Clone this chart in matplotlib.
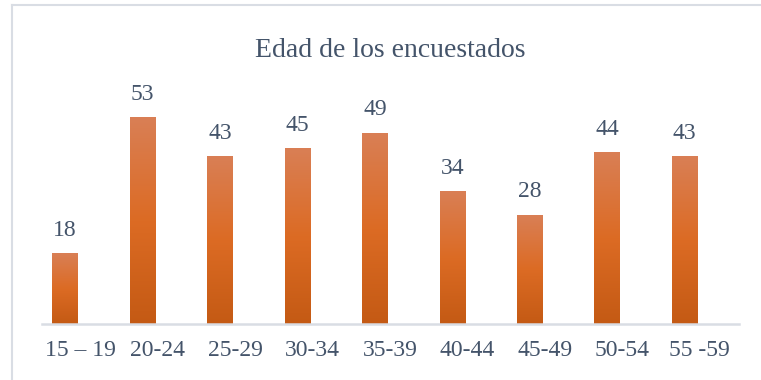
import numpy as np
import matplotlib.pyplot as plt
from matplotlib.colors import LinearSegmentedColormap
from matplotlib.lines import Line2D

# data
categories = ["15 – 19", "20-24", "25-29", "30-34", "35-39",
              "40-44", "45-49", "50-54", "55 -59"]
counts = [18, 53, 43, 45, 49, 34, 28, 44, 43]

TEXT = "#44546A"
GRID = "#D9DDE4"
grad = LinearSegmentedColormap.from_list(
    "bar", ["#C45A14", "#DC6B24", "#D97F55"])

plt.rcParams["font.family"] = ["Liberation Serif", "DejaVu Serif"]

fig = plt.figure(figsize=(7.61, 3.80), dpi=100)
ax = fig.add_axes([41.5 / 761, 1 - 323.5 / 380, 697 / 761, 233.5 / 380])

x = np.arange(len(categories))
bars = ax.bar(x - 0.195, counts, width=0.33, color="none", edgecolor="none")

# vertical gradient fill for each bar
g = np.linspace(0, 1, 256).reshape(-1, 1)
for b in bars:
    x0, w, h = b.get_x(), b.get_width(), b.get_height()
    ax.imshow(g, cmap=grad, origin="lower", aspect="auto",
              extent=(x0, x0 + w, 0, h), zorder=2, interpolation="bilinear")

ax.bar_label(bars, labels=[str(c) for c in counts], padding=9,
             fontsize=17, color=TEXT)

ax.set_xlim(-0.5, len(categories) - 0.5)
ax.set_ylim(0, 60)
ax.set_xticks(x)
ax.set_xticklabels(categories, fontsize=17, color=TEXT)
ax.tick_params(axis="x", length=0, pad=12)
ax.set_yticks([])
for s in ["top", "right", "left"]:
    ax.spines[s].set_visible(False)
ax.spines["bottom"].set_color(GRID)
ax.spines["bottom"].set_linewidth(1.8)

ax.set_title("Edad de los encuestados", fontsize=20, color=TEXT, pad=24)

# chart frame (only top and left edges visible in the crop)
fig.add_artist(Line2D([12 / 761, 12 / 761], [0, 1 - 5 / 380],
                      transform=fig.transFigure, color=GRID, lw=1.5))
fig.add_artist(Line2D([12 / 761, 1], [1 - 5 / 380, 1 - 5 / 380],
                      transform=fig.transFigure, color=GRID, lw=1.5))

fig.savefig("out.png", dpi=100)
